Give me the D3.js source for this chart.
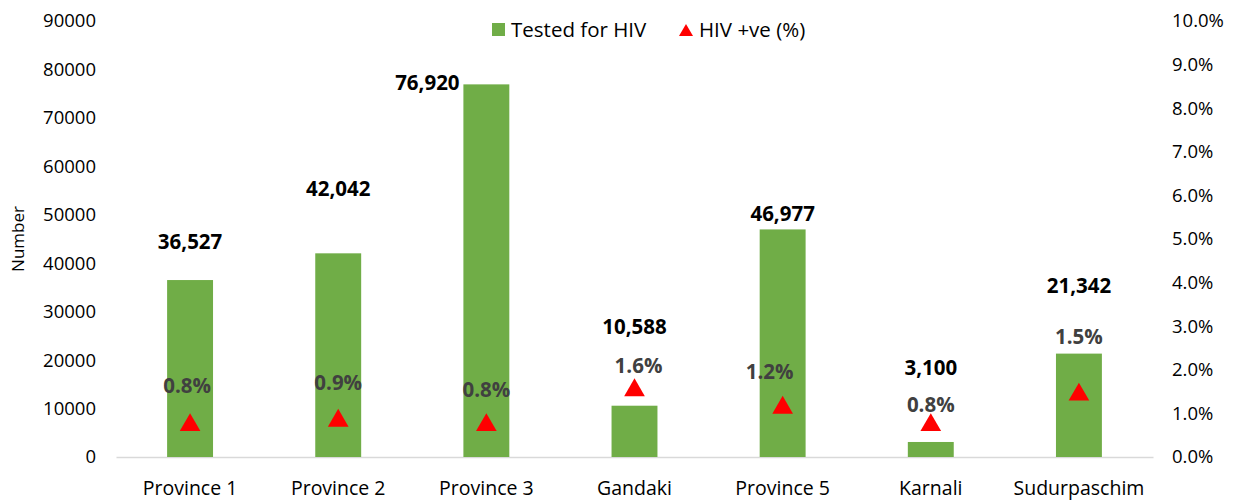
<!DOCTYPE html>
<html>
<head>
<meta charset="utf-8">
<script src="https://cdn.jsdelivr.net/npm/d3@7"></script>
<style>
body{margin:0;background:#fff;}
text{font-family:'Open Sans',sans-serif;}
</style>
</head>
<body>
<svg id="chart" width="1237" height="501"></svg>
<script>
'use strict';

var provinces=['Province 1','Province 2','Province 3','Gandaki','Province 5','Karnali','Sudurpaschim']
  , tested=[36527,42042,76920,10588,46977,3100,21342]
  , positive=[0.008,0.009,0.008,0.016,0.012,0.008,0.015]
  , leftTicks=[0,10000,20000,30000,40000,50000,60000,70000,80000,90000]
  , rightTicks=[0,0.01,0.02,0.03,0.04,0.05,0.06,0.07,0.08,0.09,0.10]

// hand placed label offsets (px), as in the source sheet
var numDx=[0,0,-59,0,0,0,0]
  , numDy=[-38,-65,-2,-79,-16,-74,-68]
  , pctDx=[-3,0,0,4,-13,0,0]
  , pctDy=[-36,-35,-32,-21,-33,-17,-55]

var svg=d3.select('#chart')
  , pLeft=116
  , pRight=1153
  , pTop=21
  , pBottom=457
  , font="'Open Sans',sans-serif"

var x=d3.scaleBand()
    .domain(provinces)
    .range([pLeft,pRight])
    .paddingInner(0.69)
    .paddingOuter(0.345)

var y=d3.scaleLinear().domain([0,90000]).range([pBottom,pTop])
var y2=d3.scaleLinear().domain([0,0.10]).range([pBottom,pTop])

// left axis
svg.append('g')
    .attr('transform','translate('+pLeft+',0)')
    .call(d3.axisLeft(y).tickValues(leftTicks).tickFormat(d3.format('d')).tickSize(0).tickPadding(20))
    .call(function(g){g.select('.domain').remove();})
    .selectAll('text')
    .attr('font-size',18.5)
    .attr('fill','#000')
    .attr('font-family',font)

// right axis
svg.append('g')
    .attr('transform','translate('+pRight+',0)')
    .call(d3.axisRight(y2).tickValues(rightTicks).tickFormat(d3.format('.1%')).tickSize(0).tickPadding(19))
    .call(function(g){g.select('.domain').remove();})
    .selectAll('text')
    .attr('font-size',18.5)
    .attr('fill','#000')
    .attr('font-family',font)

// category axis
svg.append('g')
    .attr('transform','translate(0,'+pBottom+')')
    .call(d3.axisBottom(x).tickSize(0).tickPadding(24))
    .call(function(g){g.select('.domain').attr('stroke','#d9d9d9').attr('stroke-width',1.5);})
    .selectAll('text')
    .attr('font-size',19.5)
    .attr('fill','#000')
    .attr('font-family',font)

svg.append('text')
    .attr('transform','translate(24,'+((pTop+pBottom)/2)+') rotate(-90)')
    .attr('text-anchor','middle')
    .attr('font-size',17)
    .text('Number')

// bars
svg.append('g').selectAll('rect')
    .data(tested)
    .enter().append('rect')
    .attr('x',function(d,i){return x(provinces[i]);})
    .attr('y',function(d){return y(d);})
    .attr('width',x.bandwidth())
    .attr('height',function(d){return pBottom-y(d);})
    .attr('fill','#70AD47')

// triangles (shifted so the box, not the centroid, sits on the value)
var tri=d3.symbol().type(d3.symbolTriangle).size(185)
svg.append('g').selectAll('path')
    .data(positive)
    .enter().append('path')
    .attr('d',tri)
    .attr('transform',function(d,i){
        return 'translate('+(x(provinces[i])+x.bandwidth()/2)+','+(y2(d)+3)+')';
    })
    .attr('fill','#FF0000')

// number labels
svg.append('g').selectAll('text')
    .data(tested)
    .enter().append('text')
    .attr('x',function(d,i){return x(provinces[i])+x.bandwidth()/2+numDx[i];})
    .attr('y',function(d,i){return y(d)+numDy[i];})
    .attr('dy','0.35em')
    .attr('text-anchor','middle')
    .attr('font-size',20.5)
    .attr('font-weight','bold')
    .attr('fill','#000')
    .text(d3.format(','))

// percent labels
svg.append('g').selectAll('text')
    .data(positive)
    .enter().append('text')
    .attr('x',function(d,i){return x(provinces[i])+x.bandwidth()/2+pctDx[i];})
    .attr('y',function(d,i){return y2(d)+pctDy[i];})
    .attr('dy','0.35em')
    .attr('text-anchor','middle')
    .attr('font-size',20.5)
    .attr('font-weight','bold')
    .attr('fill','#404040')
    .text(d3.format('.1%'))

// legend
var lg=svg.append('g')
lg.append('rect')
    .attr('x',492).attr('y',23).attr('width',13).attr('height',13)
    .attr('fill','#70AD47')
lg.append('text')
    .attr('x',511).attr('y',30).attr('dy','0.35em')
    .attr('font-size',20.5)
    .text('Tested for HIV')
lg.append('path')
    .attr('d',d3.symbol().type(d3.symbolTriangle).size(85))
    .attr('transform','translate(686,32)')
    .attr('fill','#FF0000')
lg.append('text')
    .attr('x',699).attr('y',30).attr('dy','0.35em')
    .attr('font-size',20.5)
    .text('HIV +ve (%)')
</script>
</body>
</html>
